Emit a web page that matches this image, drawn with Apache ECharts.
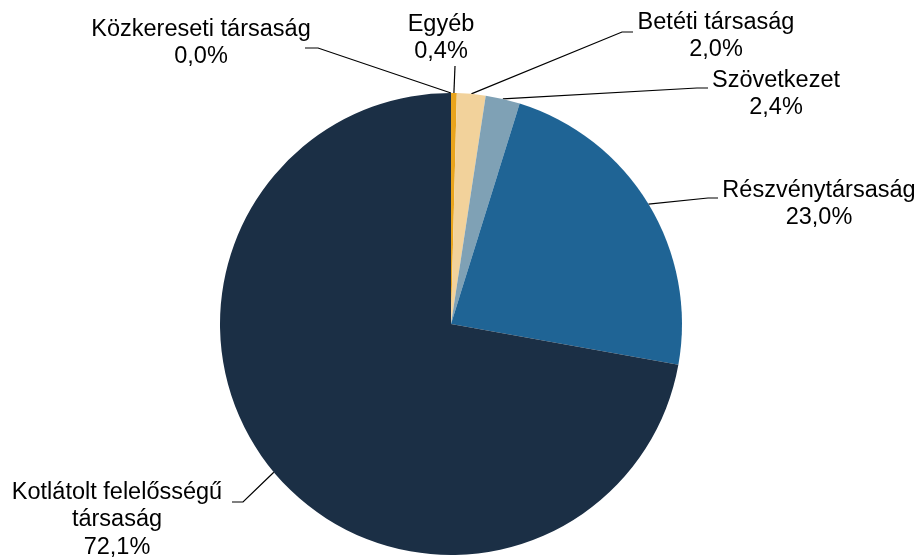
<!DOCTYPE html>
<html>
<head>
<meta charset="utf-8">
<script src="https://cdn.jsdelivr.net/npm/echarts@6/dist/echarts.min.js"></script>
<style>
  html, body { margin: 0; padding: 0; background: #fff; }
  #chart { width: 921px; height: 559px; }
</style>
</head>
<body>
<div id="chart"></div>
<script>
// Shares of company types (%), clockwise from 12 o'clock
const categories = [
  'Közkereseti társaság',
  'Egyéb',
  'Betéti társaság',
  'Szövetkezet',
  'Részvénytársaság',
  'Kotlátolt felelősségű\ntársaság'
];
const shares = [0.0, 0.4, 2.0, 2.4, 23.0, 72.1];
const sliceColors = ['#1b2f45', '#e9a41c', '#f2d29b', '#7fa1b5', '#1f6495', '#1b2f45'];

// Label placement: text block centre and the two leader points nearest the text
const labelCenters = [
  [201, 43], [441, 38], [716, 36], [776, 94], [819, 204], [117, 520]
];
const leaderKnees = [
  [[318, 48], [305, 48]],
  [[455, 66], [455, 66]],
  [[622, 32], [633, 32]],
  [[697, 88], [708, 88]],
  [[708, 198], [718, 198]],
  [[243, 502], [232, 502]]
];

const chart = echarts.init(document.getElementById('chart'), null, { renderer: 'canvas' });

const fmt = v => v.toFixed(1).replace('.', ',') + '%';

chart.setOption({
  animation: false,
  backgroundColor: '#ffffff',
  series: [{
    type: 'pie',
    center: [451, 324],
    radius: 231,
    startAngle: 90,
    clockwise: true,
    avoidLabelOverlap: false,
    minShowLabelAngle: 0,
    data: categories.map((name, i) => ({
      name: name,
      value: shares[i],
      itemStyle: { color: sliceColors[i] }
    })),
    label: {
      show: true,
      position: 'outside',
      formatter: p => p.name + '\n' + fmt(p.value),
      fontFamily: 'Liberation Sans, Arial, sans-serif',
      fontSize: 23.5,
      lineHeight: 27.5,
      color: '#000',
      align: 'center'
    },
    labelLine: {
      show: true,
      length: 10,
      length2: 10,
      lineStyle: { color: '#000', width: 1.2 }
    },
    labelLayout: function (params) {
      const i = params.dataIndex;
      const c = labelCenters[i];
      const out = {
        x: c[0],
        y: c[1],
        align: 'center',
        verticalAlign: 'middle'
      };
      if (params.labelLinePoints && params.labelLinePoints.length) {
        const start = params.labelLinePoints[0];
        out.labelLinePoints = [start, leaderKnees[i][0], leaderKnees[i][1]];
      }
      return out;
    },
    emphasis: { disabled: true }
  }]
});
</script>
</body>
</html>
